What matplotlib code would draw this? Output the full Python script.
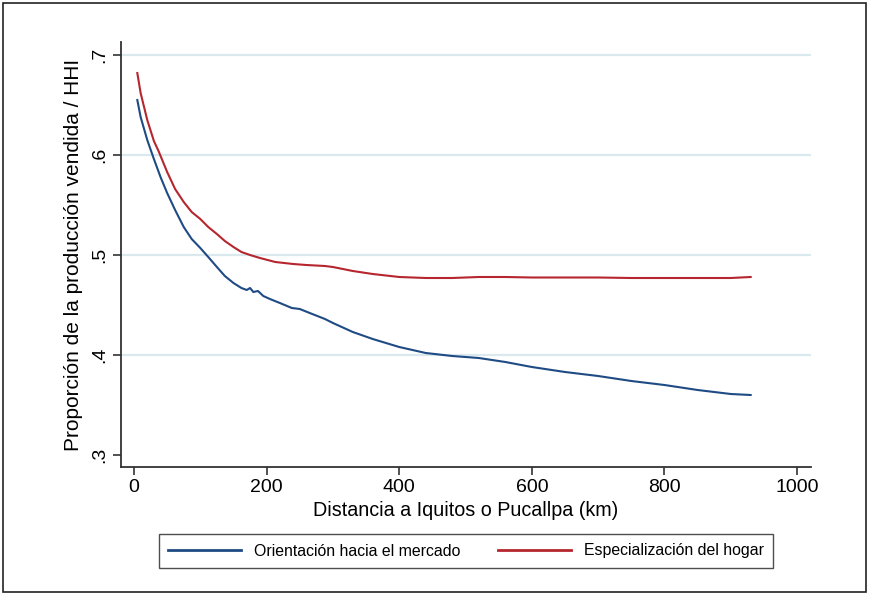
import matplotlib
matplotlib.use("Agg")
import matplotlib.pyplot as plt
from matplotlib.patches import Rectangle

plt.rcParams['font.family'] = ['Liberation Sans', 'DejaVu Sans']

# distance (km) and smoothed proportions
dist_mercado = [5, 10, 20, 30, 40, 50, 62, 75, 87, 100, 112, 125, 137, 150, 162, 170,
                175, 180, 187, 195, 205, 220, 238, 250, 265, 288, 300, 330, 360, 400,
                440, 480, 520, 560, 600, 650, 700, 750, 800, 850, 900, 930]
orientacion = [0.655, 0.638, 0.615, 0.596, 0.578, 0.562, 0.545, 0.528, 0.516, 0.507,
               0.498, 0.488, 0.479, 0.472, 0.467, 0.465, 0.467, 0.463, 0.464, 0.459,
               0.456, 0.452, 0.447, 0.446, 0.442, 0.436, 0.432, 0.423, 0.416, 0.408,
               0.402, 0.399, 0.397, 0.393, 0.388, 0.383, 0.379, 0.374, 0.370, 0.365,
               0.361, 0.360]

dist_hogar = [5, 10, 20, 30, 37, 50, 62, 75, 87, 100, 112, 125, 137, 150, 162, 175,
              190, 213, 240, 260, 288, 300, 330, 360, 400, 440, 480, 520, 560, 600,
              650, 700, 750, 800, 850, 900, 930]
especializacion = [0.682, 0.662, 0.635, 0.614, 0.604, 0.583, 0.566, 0.553, 0.543, 0.536,
                   0.528, 0.521, 0.514, 0.508, 0.503, 0.500, 0.497, 0.493, 0.491, 0.490,
                   0.489, 0.488, 0.484, 0.481, 0.478, 0.477, 0.477, 0.478, 0.478, 0.4775,
                   0.4775, 0.4775, 0.477, 0.477, 0.477, 0.477, 0.478]

xticks = [0, 200, 400, 600, 800, 1000]
yticks = [0.3, 0.4, 0.5, 0.6, 0.7]
ytick_labels = ['.3', '.4', '.5', '.6', '.7']

fig = plt.figure(figsize=(8.7, 5.95), dpi=100)
ax = fig.add_axes([121 / 870, 128 / 595, 690 / 870, 425 / 595])

for y in yticks[1:]:
    ax.axhline(y, color='#d9e9ee', lw=1.6, zorder=0)

l1, = ax.plot(dist_mercado, orientacion, color='#1f4b84', lw=1.5)
l2, = ax.plot(dist_hogar, especializacion, color='#b5262f', lw=1.5)

ax.set_xlim(-19.6, 1021)
ax.set_ylim(0.288, 0.713)
ax.set_xticks(xticks)
ax.set_yticks(yticks)
ax.set_yticklabels(ytick_labels, rotation=90, va='center')
ax.tick_params(labelsize=14, length=6, width=1.2, color='#333333', pad=3)
for s in ['top', 'right']:
    ax.spines[s].set_visible(False)
for s in ['left', 'bottom']:
    ax.spines[s].set_color('#333333')
    ax.spines[s].set_linewidth(1.3)

ax.set_xlabel('Distancia a Iquitos o Pucallpa (km)', fontsize=14.2, labelpad=3)
ax.set_ylabel('Proporción de la producción vendida / HHI', fontsize=15, labelpad=6)

leg = fig.legend([l1, l2], ['Orientación hacia el mercado', 'Especialización del hogar'],
                 loc='center', bbox_to_anchor=(466 / 870, 1 - 551 / 595), ncol=2,
                 fontsize=11.4, handlelength=4.6, columnspacing=2.4, handletextpad=0.8,
                 fancybox=False, edgecolor='#222222', borderpad=0.6, borderaxespad=0)
leg.get_frame().set_linewidth(1.0)
for ln in leg.get_lines():
    ln.set_linewidth(2)

fig.patches.append(Rectangle((3 / 870, 3 / 595), 863 / 870, 589 / 595,
                             transform=fig.transFigure, fill=False,
                             edgecolor='#222222', lw=1.2))

fig.savefig('out.png', dpi=100)
